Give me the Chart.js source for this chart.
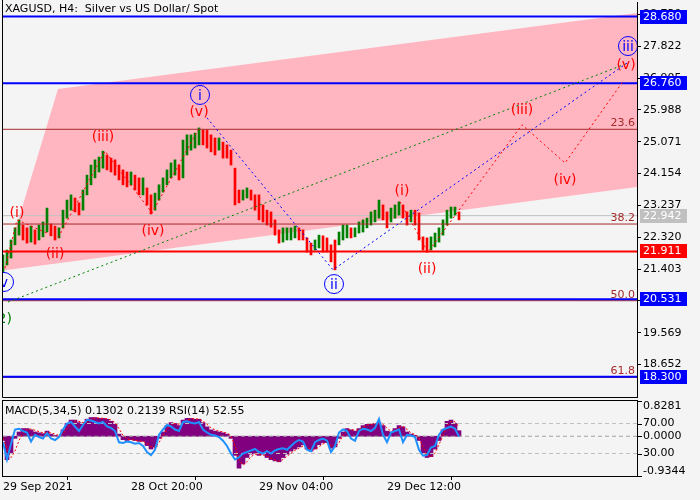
<!DOCTYPE html>
<html><head><meta charset="utf-8">
<script src="https://cdn.jsdelivr.net/npm/chart.js@4.4.1/dist/chart.umd.min.js"></script>
<style>
html,body{margin:0;padding:0;background:#f4f4f4;}
#wrap{position:relative;width:700px;height:500px;overflow:hidden;}
canvas{position:absolute;left:0;top:0;}
</style></head><body>
<div id="wrap"><canvas id="main" width="700" height="500"></canvas><canvas id="sub" width="700" height="500"></canvas></div>
<script>
// ---------- DATA ----------
const chartTitle = 'XAGUSD, H4:  Silver vs US Dollar/ Spot';
const barStep = 4; // H4 bars per sample
const xTickPos = [0, 128, 256, 384];
const xTickLabels = ['29 Sep 2021', '28 Oct 20:00', '29 Nov 04:00', '29 Dec 12:00'];
const priceTicks = [18.652, 19.569, 20.486, 21.403, 22.320, 23.237, 24.154, 25.071, 25.988, 26.905, 27.822, 28.739];

const highs = [21.81,21.95,22.24,22.59,22.82,22.67,22.59,22.64,22.53,22.67,
  22.76,23.16,22.70,22.64,22.59,23.10,23.39,23.54,23.45,23.31,
  23.68,24.11,24.40,24.55,24.63,24.80,24.69,24.60,24.55,24.40,
  24.26,24.20,24.20,24.11,24.03,24.03,23.74,23.54,23.59,23.83,
  24.03,24.26,24.46,24.55,24.40,25.12,25.27,25.27,25.32,25.47,
  25.41,25.41,25.27,25.18,25.18,25.06,24.98,24.83,24.31,23.68,
  23.68,23.74,23.68,23.54,23.54,23.25,23.10,23.05,22.82,22.53,
  22.59,22.59,22.59,22.64,22.59,22.53,22.30,22.15,22.24,22.38,
  22.36,22.30,22.10,22.24,22.47,22.67,22.67,22.59,22.59,22.76,
  22.82,22.87,23.05,23.10,23.39,23.25,23.05,23.16,23.25,23.34,
  23.25,23.05,23.10,23.10,23.02,22.33,22.30,22.33,22.44,22.59,
  22.82,23.10,23.19,23.19,23.05];
const lows = [21.32,21.52,21.72,22.10,22.38,22.24,22.15,22.18,22.12,22.24,
  22.33,22.47,22.36,22.24,22.30,22.59,22.87,23.10,23.05,22.96,
  23.10,23.54,23.83,24.03,24.20,24.31,24.26,24.20,24.11,23.97,
  23.83,23.77,23.83,23.68,23.54,23.54,23.25,22.99,23.10,23.39,
  23.62,23.83,24.03,24.11,23.97,24.03,24.69,24.83,24.89,24.98,
  24.98,24.89,24.78,24.69,24.83,24.60,24.60,24.40,23.25,23.31,
  23.39,23.45,23.39,23.10,22.82,22.76,22.67,22.61,22.38,22.15,
  22.18,22.24,22.24,22.30,22.24,22.24,21.89,21.81,21.95,22.01,
  21.89,21.89,21.61,21.38,22.10,22.24,22.30,22.30,22.33,22.44,
  22.47,22.59,22.67,22.76,22.87,22.82,22.59,22.76,22.87,22.96,
  22.87,22.67,22.76,22.67,22.24,21.95,21.89,21.95,22.04,22.18,
  22.38,22.67,22.87,22.96,22.82];

const macdHist = [-0.10,-0.55,-0.40,-0.05,0.10,0.18,0.18,0.15,0.10,0.08,
  0.06,0.12,0.05,0.02,0.00,0.15,0.30,0.38,0.38,0.32,
  0.30,0.40,0.44,0.44,0.42,0.42,0.40,0.35,0.28,0.05,
  -0.08,-0.10,-0.08,-0.10,-0.12,-0.12,-0.22,-0.30,-0.25,-0.05,
  0.10,0.25,0.32,0.30,0.25,0.38,0.42,0.42,0.40,0.40,
  0.32,0.22,0.15,0.12,0.10,0.08,0.05,-0.05,-0.45,-0.75,
  -0.65,-0.50,-0.42,-0.40,-0.45,-0.42,-0.50,-0.55,-0.58,-0.60,
  -0.50,-0.42,-0.35,-0.30,-0.25,-0.20,-0.30,-0.35,-0.30,-0.20,
  -0.15,-0.15,-0.28,-0.25,-0.05,0.10,0.18,0.15,0.12,0.18,
  0.25,0.28,0.28,0.30,0.32,0.25,0.12,0.10,0.18,0.25,
  0.22,0.10,0.05,0.02,-0.10,-0.40,-0.50,-0.48,-0.30,-0.10,
  0.15,0.35,0.38,0.30,0.1302];
const macdSignal = [-0.05,-0.30,-0.50,-0.35,-0.10,0.08,0.16,0.17,0.14,0.11,
  0.08,0.09,0.08,0.05,0.02,0.06,0.18,0.30,0.36,0.35,
  0.32,0.35,0.40,0.43,0.43,0.42,0.41,0.38,0.32,0.18,
  0.02,-0.06,-0.08,-0.09,-0.11,-0.12,-0.17,-0.25,-0.27,-0.15,
  0.02,0.16,0.27,0.30,0.28,0.32,0.38,0.41,0.41,0.40,
  0.36,0.28,0.20,0.15,0.12,0.10,0.07,0.01,-0.22,-0.55,
  -0.68,-0.60,-0.48,-0.42,-0.43,-0.44,-0.47,-0.52,-0.56,-0.59,
  -0.55,-0.47,-0.40,-0.33,-0.28,-0.23,-0.26,-0.31,-0.31,-0.25,
  -0.18,-0.15,-0.22,-0.26,-0.15,0.02,0.13,0.16,0.14,0.15,
  0.21,0.26,0.28,0.29,0.31,0.28,0.19,0.12,0.14,0.21,
  0.23,0.16,0.08,0.04,-0.04,-0.25,-0.45,-0.49,-0.40,-0.20,
  0.02,0.25,0.35,0.34,0.2139];
const rsi = [45,22,43,62,63,60,58,46,55,52,
  50,57,50,48,52,62,70,72,66,60,
  68,75,74,72,70,72,66,64,60,45,
  44,46,45,43,44,40,32,28,35,55,
  62,68,66,62,60,72,73,71,70,72,
  62,58,55,54,52,47,40,30,22,25,
  30,32,34,36,32,30,33,30,34,36,
  37,35,40,45,48,46,35,33,45,48,
  50,47,32,40,58,62,60,50,47,60,
  63,62,60,64,76,55,45,58,60,62,
  45,55,54,52,35,27,28,38,40,55,
  62,64,66,63,52.55];
const macdRange = [-0.9344, 0.8281];
const rsiLevels = [70, 30];

const blueLevels = [28.680, 26.760, 20.531, 18.300];
const redLevel = 21.911;
const bidPrice = 22.942;
const fibLevels = [25.43, 22.70, 20.49, 18.28];
const fibNames = ['23.6', '38.2', '50.0', '61.8'];

const channelIdx = [0, 55, 634, 634];
const channelPrice = [21.36, 26.59, 28.78, 23.77];

const waveAIdx = [2, 14, 55, 102, 149, 195];
const waveAPrice = [21.43, 22.82, 22.30, 24.80, 23.02, 25.41];
const waveBIdx = [397, 425, 519, 562, 621];
const waveBPrice = [23.34, 21.89, 25.56, 24.46, 26.85];
const blueWaveIdx = [204, 330, 624];
const blueWavePrice = [25.76, 21.38, 27.34];
const greenIdx = [5, 625];
const greenPrice = [20.45, 27.34];

const redLabelText = ['(i)','(ii)','(iii)','(iv)','(v)','(i)','(ii)','(iii)','(iv)','(v)'];
const redLabelIdx = [14, 52, 100, 150, 196, 399, 424, 519, 562, 623];
const redLabelPrice = [23.02, 21.84, 25.21, 22.50, 25.93, 23.65, 21.40, 25.99, 23.97, 27.28];
const blueLabelText = ['v', 'i', 'ii', 'iii'];
const blueLabelIdx = [1, 197, 331, 625];
const blueLabelPrice = [21.03, 26.42, 20.97, 27.83];
const greenLabelText = ['(2)'];
const greenLabelIdx = [-1];
const greenLabelPrice = [19.96];

// ---------- SETTINGS ----------
const X_MIN = 0, X_MAX = 634;
const P_MIN = 17.715, P_MAX = 29.099;
const FONT = '"DejaVu Sans", "Liberation Sans", sans-serif';
Chart.defaults.font.family = FONT;
Chart.defaults.font.size = 11;
Chart.defaults.color = '#000';

const pts = (xs, ys) => xs.map((x, i) => ({x, y: ys[i]}));
const hline = (v, color, width, order, axis, dash) => ({
  type: 'line', data: [{x: X_MIN, y: v}, {x: X_MAX, y: v}], borderColor: color, borderWidth: width,
  borderDash: dash || [], pointRadius: 0, fill: false, order, yAxisID: axis || 'y'
});
const dotted = (data, color, order) => ({
  type: 'line', data, borderColor: color, borderWidth: 1, borderDash: [2, 3], pointRadius: 0, fill: false, order
});
const zeroPad = s => { s.paddingTop = 0; s.paddingBottom = 0; s.paddingLeft = 0; s.paddingRight = 0; };

const candleData = highs.map((h, i) => ({x: i * barStep, y: [lows[i], h]}));
const candleColors = highs.map((h, i) => {
  const m = (h + lows[i]) / 2;
  const pm = i ? (highs[i - 1] + lows[i - 1]) / 2 : m;
  return m >= pm ? '#008000' : '#ff0000';
});

const datasets = [
  {type: 'line', data: pts(channelIdx, channelPrice), fill: 'shape', backgroundColor: '#ffb6c1',
   borderWidth: 0, borderColor: 'rgba(0,0,0,0)', pointRadius: 0, order: 30},
  hline(bidPrice, '#c0c0c0', 1, 25),
  {type: 'bar', data: candleData, backgroundColor: candleColors, barThickness: 2, order: 20},
  ...fibLevels.map(v => hline(v, '#a52a2a', 1, 12)),
  ...blueLevels.map(v => hline(v, '#0000ff', 2, 10)),
  hline(redLevel, '#ff0000', 2, 10),
  dotted(pts(greenIdx, greenPrice), '#008000', 5),
  dotted(pts(blueWaveIdx, blueWavePrice), '#0000ff', 4),
  dotted(pts(waveAIdx, waveAPrice), '#ff0000', 3),
  dotted(pts(waveBIdx, waveBPrice), '#ff0000', 3)
];

const mainOverlay = {
  id: 'mainOverlay',
  afterDatasetsDraw(chart) {
    const {ctx, chartArea: a, scales: {x, y}} = chart;
    ctx.save();
    ctx.beginPath(); ctx.rect(a.left, a.top, a.right - a.left, a.bottom - a.top); ctx.clip();
    ctx.font = '11px ' + FONT; ctx.fillStyle = '#a52a2a'; ctx.textAlign = 'right'; ctx.textBaseline = 'alphabetic';
    fibLevels.forEach((v, i) => ctx.fillText(fibNames[i], a.right - 2, y.getPixelForValue(v) - 3));
    ctx.font = '14px ' + FONT; ctx.textAlign = 'center'; ctx.textBaseline = 'middle';
    ctx.fillStyle = '#ff0000';
    redLabelText.forEach((t, i) => ctx.fillText(t, x.getPixelForValue(redLabelIdx[i]), y.getPixelForValue(redLabelPrice[i])));
    ctx.fillStyle = '#008000';
    greenLabelText.forEach((t, i) => ctx.fillText(t, x.getPixelForValue(greenLabelIdx[i]), y.getPixelForValue(greenLabelPrice[i])));
    ctx.strokeStyle = '#0000ff'; ctx.fillStyle = '#0000ff'; ctx.lineWidth = 1;
    blueLabelText.forEach((t, i) => {
      const px = x.getPixelForValue(blueLabelIdx[i]), py = y.getPixelForValue(blueLabelPrice[i]);
      ctx.beginPath(); ctx.arc(px, py, 9.5, 0, Math.PI * 2); ctx.stroke();
      ctx.fillText(t, px, py + 1);
    });
    ctx.restore();
  },
  afterDraw(chart) {
    const {ctx, chartArea: a, scales: {y}} = chart;
    ctx.save();
    ctx.strokeStyle = '#000'; ctx.lineWidth = 1;
    ctx.beginPath(); ctx.moveTo(2.5, 0); ctx.lineTo(2.5, a.bottom + 0.5); ctx.lineTo(a.right + 0.5, a.bottom + 0.5); ctx.stroke();
    ctx.font = '11px ' + FONT; ctx.fillStyle = '#000'; ctx.textAlign = 'left'; ctx.textBaseline = 'middle';
    ctx.fillText(chartTitle, 5, 9);
    const boxes = blueLevels.map(v => [v, '#0000ff']).concat([[redLevel, '#ff0000'], [bidPrice, '#c0c0c0']]);
    boxes.forEach(([v, c]) => {
      const py = Math.round(y.getPixelForValue(v));
      ctx.fillStyle = c; ctx.fillRect(a.right + 3, py - 7, 47, 14);
      ctx.fillStyle = '#fff'; ctx.fillText(v.toFixed(3), a.right + 6, py);
    });
    ctx.restore();
  }
};

new Chart(document.getElementById('main'), {
  type: 'bar',
  data: {datasets},
  options: {
    responsive: false, animation: false, events: [],
    layout: {padding: {left: 3, top: 2, right: 0, bottom: 103}},
    plugins: {legend: {display: false}, tooltip: {enabled: false}},
    scales: {
      x: {type: 'linear', min: X_MIN, max: X_MAX, offset: false, display: false, afterFit: zeroPad},
      y: {type: 'linear', position: 'right', min: P_MIN, max: P_MAX,
          afterFit: s => { s.width = 63; zeroPad(s); },
          afterBuildTicks: s => { s.ticks = priceTicks.map(v => ({value: v})); },
          ticks: {callback: v => Number(v).toFixed(3), autoSkip: false, padding: 2, color: '#000', font: {size: 11}},
          grid: {drawOnChartArea: false, tickLength: 4, color: '#000'},
          border: {display: true, color: '#000', width: 1}}
    }
  },
  plugins: [mainOverlay]
});

// ---------- SUB PANEL ----------
const last = macdHist.length - 1;
const subTitle = 'MACD(5,34,5) ' + macdHist[last].toFixed(4) + ' ' + macdSignal[last].toFixed(4) +
  ' RSI(14) ' + rsi[last].toFixed(2);

const subOverlay = {
  id: 'subOverlay',
  afterDraw(chart) {
    const {ctx, chartArea: a, scales} = chart;
    ctx.save();
    ctx.strokeStyle = '#000'; ctx.lineWidth = 1;
    ctx.strokeRect(2.5, a.top - 0.5, a.right - 2, a.bottom - a.top + 1);
    ctx.font = '11px ' + FONT; ctx.fillStyle = '#000'; ctx.textAlign = 'left'; ctx.textBaseline = 'middle';
    ctx.fillText(subTitle, 5, a.top + 10);
    const items = [
      [macdRange[1].toFixed(4), scales.y.getPixelForValue(macdRange[1]), 'top'],
      [rsiLevels[0].toFixed(2), scales.yR.getPixelForValue(rsiLevels[0]), 'middle'],
      [(0).toFixed(4), scales.y.getPixelForValue(0), 'middle'],
      [rsiLevels[1].toFixed(2), scales.yR.getPixelForValue(rsiLevels[1]), 'middle'],
      [macdRange[0].toFixed(4), scales.y.getPixelForValue(macdRange[0]), 'bottom']
    ];
    items.forEach(([t, py, base]) => {
      const yy = Math.round(py) + 0.5;
      ctx.beginPath(); ctx.moveTo(a.right, yy); ctx.lineTo(a.right + 5, yy); ctx.stroke();
      ctx.textBaseline = base;
      ctx.fillText(t, a.right + 6, base === 'bottom' ? py + 1 : py);
    });
    ctx.restore();
  }
};

new Chart(document.getElementById('sub'), {
  type: 'bar',
  data: {datasets: [
    {type: 'bar', data: macdHist.map((v, i) => ({x: i * barStep, y: v})), backgroundColor: '#800080',
     barThickness: 4, yAxisID: 'y', order: 10},
    hline(0, '#a0a0a0', 1, 6, 'y', [4, 3]),
    hline(rsiLevels[0], '#c0c0c0', 1, 6, 'yR', [4, 3]),
    hline(rsiLevels[1], '#c0c0c0', 1, 6, 'yR', [4, 3]),
    {type: 'line', data: macdSignal.map((v, i) => ({x: i * barStep, y: v})), borderColor: '#ff0000',
     borderWidth: 1, borderDash: [2, 2], pointRadius: 0, fill: false, yAxisID: 'y', order: 3},
    {type: 'line', data: rsi.map((v, i) => ({x: i * barStep, y: v})), borderColor: '#1e90ff',
     borderWidth: 2, pointRadius: 0, fill: false, yAxisID: 'yR', order: 1}
  ]},
  options: {
    responsive: false, animation: false, events: [],
    layout: {padding: {left: 3, top: 401, right: 0, bottom: 4}},
    plugins: {legend: {display: false}, tooltip: {enabled: false}},
    scales: {
      x: {type: 'linear', min: X_MIN, max: X_MAX, offset: false, position: 'bottom',
          afterFit: s => { s.height = 20; zeroPad(s); },
          afterBuildTicks: s => { s.ticks = xTickPos.map(v => ({value: v})); },
          ticks: {callback: v => xTickLabels[xTickPos.indexOf(v)], align: 'start', maxRotation: 0, minRotation: 0,
                  autoSkip: false, padding: 1, color: '#000', font: {size: 11}},
          grid: {drawOnChartArea: false, tickLength: 4, color: '#000'},
          border: {display: true, color: '#000'}},
      y: {type: 'linear', position: 'right', min: macdRange[0], max: macdRange[1],
          afterFit: s => { s.width = 63; zeroPad(s); },
          ticks: {display: false}, grid: {display: false}, border: {display: true, color: '#000'}},
      yR: {type: 'linear', position: 'right', min: 0, max: 100, display: false}
    }
  },
  plugins: [subOverlay]
});
</script>
</body></html>
